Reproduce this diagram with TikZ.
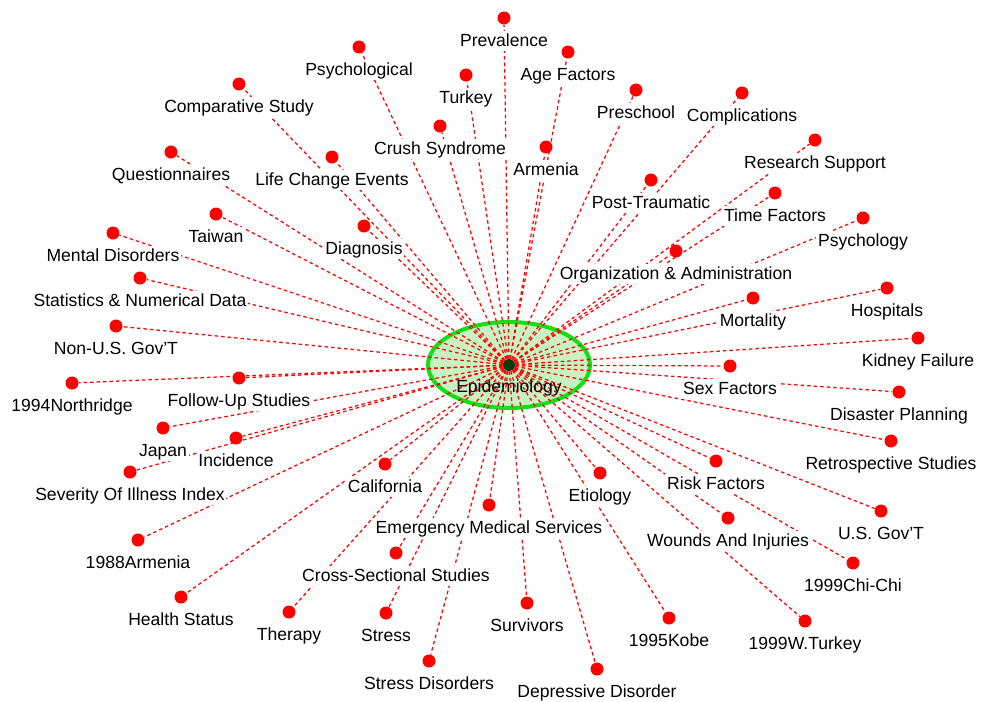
\documentclass[tikz,border=0pt]{standalone}
\usepackage{fontspec}
\setmainfont{Liberation Sans}
\usetikzlibrary{positioning,shapes.geometric}
\definecolor{spokered}{HTML}{FF0000}
\definecolor{ringgreen}{HTML}{12E012}
\definecolor{meshgreen}{HTML}{C8F2C2}
\definecolor{hubgreen}{HTML}{0B3B0B}
\pgfdeclarelayer{back}
\pgfdeclarelayer{mid}
\pgfsetlayers{back,mid,main}
\tikzset{
  term/.style={circle, fill=spokered, inner sep=0pt, minimum size=2.6mm},
  hub/.style={term, fill=hubgreen, minimum size=2.4mm},
  ring/.style={ellipse, draw=ringgreen, line width=0.8mm, fill=meshgreen, minimum width=32.4mm, minimum height=17.2mm},
  tag/.style={fill=white, inner sep=1pt, font=\fontsize{10}{12}\selectfont, text height=7.5pt, text depth=2pt},
  spoke/.style={spokered, line width=0.25mm, dash pattern=on 0.7mm off 0.6mm},
}

\begin{document}
\begin{tikzpicture}[x=0.2mm, y=-0.2mm]
        \useasboundingbox (0,0) rectangle (982,702);
        \begin{pgfonlayer}{back}
          \node[ring] (epi) at (509,365) {};
        \end{pgfonlayer}
        \node[hub] (hub) at (509,365) {};
        \node[tag, fill=none, below=1.2mm of hub] (epitag) {Epidemiology};
        \foreach \x/\y/\t [count=\i] in {
            504/18/Prevalence, 359/47/Psychological, 568/52/Age Factors,
            466/75/Turkey, 239/84/Comparative Study, 636/90/Preschool,
            742/93/Complications, 440/126/Crush Syndrome, 546/147/Armenia,
            815/140/Research Support, 171/152/Questionnaires,
            332/157/Life Change Events, 651/180/Post-Traumatic,
            775/193/Time Factors, 216/214/Taiwan, 863/218/Psychology,
            113/233/Mental Disorders, 364/226/Diagnosis,
            676/251/Organization \& Administration,
            140/278/Statistics \& Numerical Data, 887/288/Hospitals,
            753/298/Mortality, 116/326/Non-U.S. Gov'T, 918/338/Kidney Failure,
            730/366/Sex Factors, 72/383/1994Northridge,
            239/378/Follow-Up Studies, 899/392/Disaster Planning,
            163/428/Japan, 236/438/Incidence, 891/441/Retrospective Studies,
            130/472/Severity Of Illness Index, 385/464/California,
            716/461/Risk Factors, 600/473/Etiology, 881/511/U.S. Gov'T,
            489/505/Emergency Medical Services, 728/518/Wounds And Injuries,
            138/540/1988Armenia, 853/563/1999Chi-Chi,
            396/553/Cross-Sectional Studies, 181/597/Health Status,
            527/603/Survivors, 289/612/Therapy, 386/613/Stress,
            669/618/1995Kobe, 805/621/1999W.Turkey,
            429/661/Stress Disorders, 597/669/Depressive Disorder} {
          \node[term] (d\i) at (\x,\y) {};
          \node[tag, below=1.2mm of d\i] (t\i) {\t};
          \begin{pgfonlayer}{mid}
            \draw[spoke] (hub) -- (d\i);
          \end{pgfonlayer}
        }
      \end{tikzpicture}
\end{document}
